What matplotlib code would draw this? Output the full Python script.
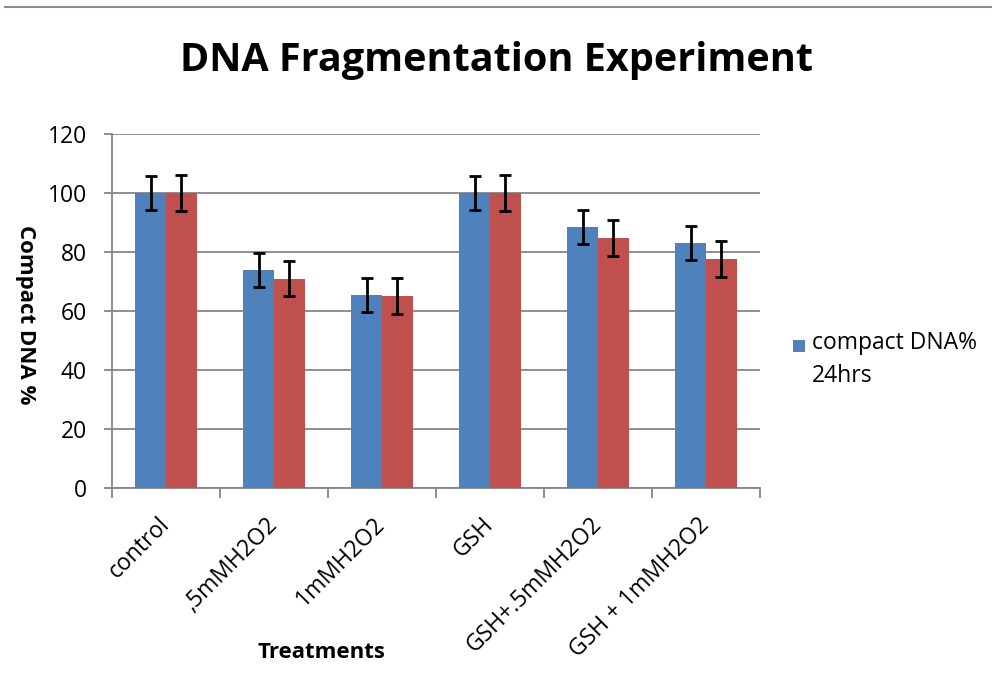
import matplotlib
matplotlib.use("Agg")
import matplotlib.pyplot as plt
import numpy as np
from matplotlib.lines import Line2D
from matplotlib.patches import Rectangle

plt.rcParams['font.family'] = ['Open Sans', 'DejaVu Sans']

categories = ["control", ",5mMH2O2", "1mMH2O2", "GSH", "GSH+.5mMH2O2", "GSH + 1mMH2O2"]
blue_vals = [100, 74, 65.5, 100, 88.5, 83]
blue_err = [5.7, 5.7, 5.8, 5.7, 5.8, 5.8]
red_vals = [100, 71, 65, 100, 84.8, 77.5]
red_err = [6.0, 6.0, 6.1, 6.0, 6.0, 6.1]
legend_label = "compact DNA%\n24hrs"

BLUE = "#4F81BD"
RED = "#C0504D"
GRID = "#868686"

fig = plt.figure(figsize=(9.92, 6.84), dpi=100)
ax = fig.add_axes([112/992, 1-488/684, (760-112)/992, (488-134)/684])

x = np.arange(len(categories))
w = 1/3.5
ekw = dict(elinewidth=2, capthick=2, ecolor='black')
ax.bar(x - w/2, blue_vals, w, color=BLUE, yerr=blue_err, capsize=4.3,
       error_kw=ekw, zorder=3)
ax.bar(x + w/2, red_vals, w, color=RED, yerr=red_err, capsize=4.3,
       error_kw=ekw, zorder=3)

ax.set_xlim(-0.5, len(categories) - 0.5)
ax.set_ylim(0, 120)
ax.set_yticks(np.arange(0, 121, 20))
ax.yaxis.grid(True, color=GRID, linewidth=1.3, zorder=0)
ax.set_axisbelow(True)
for s in ['top', 'right']:
    ax.spines[s].set_visible(False)
for s in ['left', 'bottom']:
    ax.spines[s].set_color(GRID)
    ax.spines[s].set_linewidth(1.3)

ax.set_xticks(np.arange(-0.5, len(categories)), minor=False)
ax.set_xticklabels([])
ax.set_xticks(x, minor=True)
ax.set_xticklabels(categories, minor=True, rotation=45, ha='right', va='center',
                   rotation_mode='anchor', fontsize=16.5)
ax.tick_params(axis='x', which='minor', length=0, pad=24)
ax.tick_params(axis='x', which='major', length=7, color=GRID, width=1.3)
ax.tick_params(axis='y', length=6, color=GRID, width=1.3, labelsize=16.5, pad=12)

fig.text(0.5, 1-60/684, "DNA Fragmentation Experiment", ha='center', va='center',
         fontsize=28.5, fontweight='bold')
fig.text(25/992, 1-315/684, "Compact DNA %", rotation=270, ha='center', va='center',
         fontsize=16, fontweight='bold')
fig.text(321/992, 1-653/684, "Treatments", ha='center', va='center',
         fontsize=16, fontweight='bold')

# legend (only the first series appears in the reference legend)
fig.add_artist(Rectangle((793/992, 1-352/684), 12/992, 12/684, transform=fig.transFigure,
                         facecolor=BLUE, edgecolor='none'))
fig.text(812/992, 1-331/684, legend_label, ha='left', va='top', fontsize=16.5,
         linespacing=1.5)

fig.add_artist(Line2D([5/992, 1], [1-7/684, 1-7/684], transform=fig.transFigure,
                      color="#8c8c8c", linewidth=1.5))

fig.savefig("out.png", dpi=100)
